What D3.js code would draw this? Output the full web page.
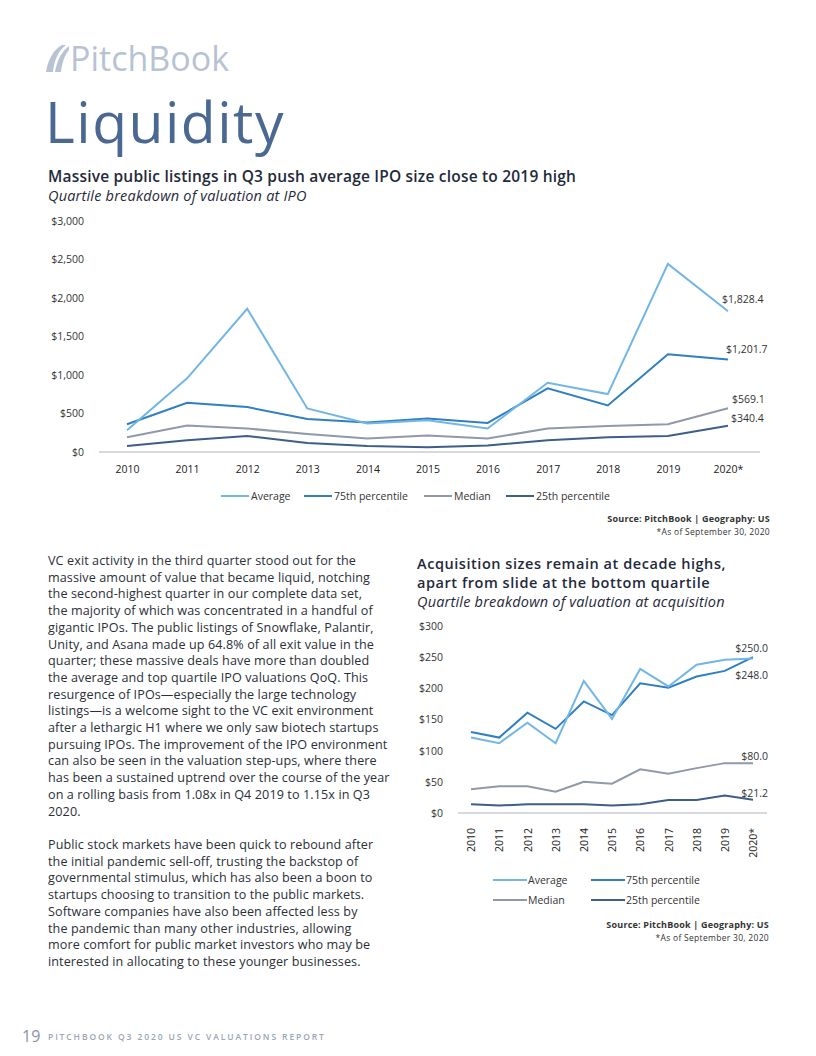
<!DOCTYPE html>
<html>
<head>
<meta charset="utf-8">
<script src="https://cdn.jsdelivr.net/npm/d3@7"></script>
<style>
body { margin: 0; background: #fff; }
svg { display: block; }
</style>
</head>
<body>
<svg id="page" width="816" height="1056"></svg>
<script>
// ---- data ----
var years = ["2010","2011","2012","2013","2014","2015","2016","2017","2018","2019","2020*"];
var seriesNames = ["Average", "75th percentile", "Median", "25th percentile"];
var colors = ["#72b6e6", "#2f7fc2", "#8f99a7", "#3e5e88"];

// IPO valuation ($M)
var ipoAverage = [283, 957, 1860, 566, 370, 413, 305, 900, 752, 2443, 1828.4];
var ipo75th    = [361, 639, 583, 430, 383, 435, 378, 826, 605, 1270, 1201.7];
var ipoMedian  = [192, 344, 305, 235, 175, 214, 175, 305, 339, 361, 569.1];
var ipo25th    = [78, 153, 209, 117, 78, 61, 83, 153, 192, 209, 340.4];
var ipoTicks   = [0, 500, 1000, 1500, 2000, 2500, 3000];
var ipoLabels  = ["$1,828.4", "$1,201.7", "$569.1", "$340.4"];

// acquisition valuation ($M)
var acqAverage = [121, 112, 145, 112, 212, 151, 231, 203, 238, 246, 248.0];
var acq75th    = [130, 121, 161, 135, 179, 157, 208, 201, 219, 228, 250.0];
var acqMedian  = [38, 43, 43, 34, 50, 47, 70, 63, 72, 80, 80.0];
var acq25th    = [14, 12, 14, 14, 14, 12, 14, 21, 21, 28, 21.2];
var acqTicks   = [0, 50, 100, 150, 200, 250, 300];
var acqLabels  = ["$248.0", "$250.0", "$80.0", "$21.2"];

var bodyFont = "'Open Sans', 'DejaVu Sans', sans-serif";
var tickFont = "'Open Sans', 'Liberation Sans', sans-serif";

var svg = d3.select("#page");

// ---- header ----
svg.append("path")
    .attr("d", "M46,72 C48,60 53,50 62,45 L66,45 C58,51 54,61 53,72 Z M55,72 C57,61 61,52 69,46 L69,50 C64,56 62,64 61,72 Z")
    .attr("fill", "#b7c3d3");
svg.append("text").attr("x", 70).attr("y", 71)
    .attr("font-family", bodyFont).attr("font-size", 34)
    .attr("fill", "#b7c3d3").text("PitchBook");
svg.append("text").attr("x", 45).attr("y", 143)
    .attr("font-family", bodyFont).attr("font-size", 57).attr("letter-spacing", 1.5)
    .attr("fill", "#4a6892").text("Liquidity");

// ---- chart 1 titles ----
svg.append("text").attr("x", 48).attr("y", 182)
    .attr("font-family", bodyFont).attr("font-size", 15.5).attr("font-weight", 600)
    .attr("letter-spacing", 0.2)
    .attr("fill", "#1f2a3a").text("Massive public listings in Q3 push average IPO size close to 2019 high");
svg.append("text").attr("x", 48).attr("y", 201)
    .attr("font-family", bodyFont).attr("font-size", 14.5).attr("font-style", "italic")
    .attr("letter-spacing", 0.2)
    .attr("fill", "#1f2a3a").text("Quartile breakdown of valuation at IPO");

// ---- chart 1 ----
var x1 = d3.scalePoint().domain(years).range([127, 728]);
var y1 = d3.scaleLinear().domain([0, 3000]).range([452, 221]);

var yAxis1 = d3.axisLeft(y1).tickValues(ipoTicks).tickSize(0).tickPadding(0)
    .tickFormat(function(d) { return "$" + d3.format(",")(d); });
var gy1 = svg.append("g").attr("transform", "translate(84,0)").call(yAxis1);
gy1.select(".domain").remove();
gy1.selectAll("text").attr("font-family", tickFont).attr("font-size", 10.5).attr("fill", "#333");

svg.append("line").attr("x1", 99).attr("x2", 760).attr("y1", y1(0)).attr("y2", y1(0))
    .attr("stroke", "#c9cdd3").attr("stroke-width", 1.5);

var xAxis1 = d3.axisBottom(x1).tickSize(0).tickPadding(0);
var gx1 = svg.append("g").attr("transform", "translate(0,466)").call(xAxis1);
gx1.select(".domain").remove();
gx1.selectAll("text").attr("font-family", tickFont).attr("font-size", 10.5)
    .attr("fill", "#222");

var ipoSeries = [ipoAverage, ipo75th, ipoMedian, ipo25th];
var line1 = d3.line().x(function(d, i) { return x1(years[i]); }).y(function(d) { return y1(d); });
[2, 3, 1, 0].forEach(function(k) {
    svg.append("path").datum(ipoSeries[k]).attr("d", line1)
        .attr("fill", "none").attr("stroke", colors[k]).attr("stroke-width", 2);
});

var ipoLabelOff = [[-6, -8], [-2, -6], [4, -5], [3, -4]];
ipoSeries.forEach(function(s, k) {
    svg.append("text")
        .attr("x", x1(years[10]) + ipoLabelOff[k][0])
        .attr("y", y1(s[10]) + ipoLabelOff[k][1])
        .attr("font-family", tickFont).attr("font-size", 10.5).attr("fill", "#333")
        .text(ipoLabels[k]);
});

// legend 1
var leg1x = [221, 304, 424, 506];
seriesNames.forEach(function(n, k) {
    var g = svg.append("g").attr("transform", "translate(" + leg1x[k] + ",496)");
    g.append("line").attr("x1", 0).attr("x2", 28).attr("stroke", colors[k]).attr("stroke-width", 2);
    g.append("text").attr("x", 30).attr("y", 4).attr("font-family", tickFont)
        .attr("font-size", 10.5).attr("fill", "#333").text(n);
});

function source(xr, y) {
    svg.append("text").attr("x", xr).attr("y", y).attr("text-anchor", "end")
        .attr("font-family", bodyFont).attr("font-size", 9).attr("font-weight", 700)
        .attr("letter-spacing", 0.2)
        .attr("fill", "#333").text("Source: PitchBook | Geography: US");
    svg.append("text").attr("x", xr).attr("y", y + 13).attr("text-anchor", "end")
        .attr("font-family", bodyFont).attr("font-size", 8.5).attr("letter-spacing", 0.3)
        .attr("fill", "#333").text("*As of September 30, 2020");
}
source(770, 522);

// ---- body text ----
var para1 = [
    "VC exit activity in the third quarter stood out for the",
    "massive amount of value that became liquid, notching",
    "the second-highest quarter in our complete data set,",
    "the majority of which was concentrated in a handful of",
    "gigantic IPOs. The public listings of Snowflake, Palantir,",
    "Unity, and Asana made up 64.8% of all exit value in the",
    "quarter; these massive deals have more than doubled",
    "the average and top quartile IPO valuations QoQ. This",
    "resurgence of IPOs\u2014especially the large technology",
    "listings\u2014is a welcome sight to the VC exit environment",
    "after a lethargic H1 where we only saw biotech startups",
    "pursuing IPOs. The improvement of the IPO environment",
    "can also be seen in the valuation step-ups, where there",
    "has been a sustained uptrend over the course of the year",
    "on a rolling basis from 1.08x in Q4 2019 to 1.15x in Q3",
    "2020."
];
var para2 = [
    "Public stock markets have been quick to rebound after",
    "the initial pandemic sell-off, trusting the backstop of",
    "governmental stimulus, which has also been a boon to",
    "startups choosing to transition to the public markets.",
    "Software companies have also been affected less by",
    "the pandemic than many other industries, allowing",
    "more comfort for public market investors who may be",
    "interested in allocating to these younger businesses."
];
function para(lines, y0) {
    svg.append("g").selectAll("text").data(lines).enter().append("text")
        .attr("x", 48).attr("y", function(d, i) { return y0 + i * 16.7; })
        .attr("font-family", bodyFont).attr("font-size", 12.6).attr("letter-spacing", 0.1)
        .attr("fill", "#2a2f38")
        .text(function(d) { return d; });
}
para(para1, 565);
para(para2, 849);

// ---- chart 2 titles ----
var title2 = ["Acquisition sizes remain at decade highs,", "apart from slide at the bottom quartile"];
svg.append("g").selectAll("text").data(title2).enter().append("text")
    .attr("x", 417).attr("y", function(d, i) { return 569 + i * 19; })
    .attr("font-family", bodyFont).attr("font-size", 14.5).attr("font-weight", 600)
    .attr("letter-spacing", 0.55).attr("fill", "#1f2a3a")
    .text(function(d) { return d; });
svg.append("text").attr("x", 417).attr("y", 607)
    .attr("font-family", bodyFont).attr("font-size", 14.5).attr("font-style", "italic")
    .attr("letter-spacing", 0.2)
    .attr("fill", "#1f2a3a").text("Quartile breakdown of valuation at acquisition");

// ---- chart 2 ----
var x2 = d3.scalePoint().domain(years).range([471, 753]);
var y2 = d3.scaleLinear().domain([0, 300]).range([813, 626]);

var yAxis2 = d3.axisLeft(y2).tickValues(acqTicks).tickSize(0).tickPadding(0)
    .tickFormat(function(d) { return "$" + d; });
var gy2 = svg.append("g").attr("transform", "translate(443,0)").call(yAxis2);
gy2.select(".domain").remove();
gy2.selectAll("text").attr("font-family", tickFont).attr("font-size", 10.5).attr("fill", "#333");

svg.append("line").attr("x1", 458).attr("x2", 767).attr("y1", y2(0)).attr("y2", y2(0))
    .attr("stroke", "#c9cdd3").attr("stroke-width", 1.5);

var xAxis2 = d3.axisBottom(x2).tickSize(0).tickPadding(0);
var gx2 = svg.append("g").attr("transform", "translate(0,826)").call(xAxis2);
gx2.select(".domain").remove();
gx2.selectAll(".tick text").attr("font-family", tickFont).attr("font-size", 10.5)
    .attr("fill", "#222")
    .attr("text-anchor", "end").attr("dy", "0.35em")
    .attr("transform", "rotate(-90)").attr("y", 0).attr("x", -2);

var acqSeries = [acqAverage, acq75th, acqMedian, acq25th];
var line2 = d3.line().x(function(d, i) { return x2(years[i]); }).y(function(d) { return y2(d); });
[2, 3, 1, 0].forEach(function(k) {
    svg.append("path").datum(acqSeries[k]).attr("d", line2)
        .attr("fill", "none").attr("stroke", colors[k]).attr("stroke-width", 2);
});

var acqLabelOff = [[15, 21], [15, -5], [15, -3], [15, -3]];
acqSeries.forEach(function(s, k) {
    svg.append("text")
        .attr("x", x2(years[10]) + acqLabelOff[k][0])
        .attr("y", y2(s[10]) + acqLabelOff[k][1])
        .attr("text-anchor", "end")
        .attr("font-family", tickFont).attr("font-size", 10.5).attr("fill", "#333")
        .text(acqLabels[k]);
});

// legend 2
var leg2 = [[493, 880], [591, 880], [493, 900], [591, 900]];
seriesNames.forEach(function(n, k) {
    var g = svg.append("g").attr("transform", "translate(" + leg2[k][0] + "," + leg2[k][1] + ")");
    g.append("line").attr("x1", 0).attr("x2", 34).attr("stroke", colors[k]).attr("stroke-width", 2);
    g.append("text").attr("x", 35).attr("y", 4).attr("font-family", tickFont)
        .attr("font-size", 10.5).attr("fill", "#333").text(n);
});
source(769, 928);

// ---- footer ----
svg.append("text").attr("x", 22).attr("y", 1042)
    .attr("font-family", bodyFont).attr("font-size", 16).attr("fill", "#8794a7").text("19");
svg.append("text").attr("x", 48).attr("y", 1040)
    .attr("font-family", bodyFont).attr("font-size", 8.5).attr("font-weight", 600)
    .attr("letter-spacing", 1.9).attr("fill", "#9aa5b4")
    .text("PITCHBOOK Q3 2020 US VC VALUATIONS REPORT");
</script>
</body>
</html>
